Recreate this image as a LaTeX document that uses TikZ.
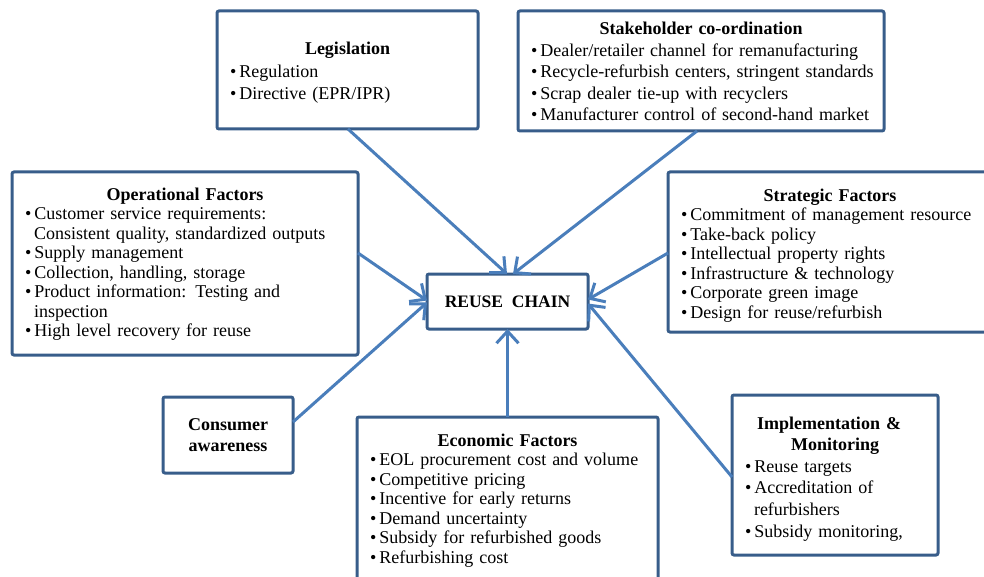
\documentclass[tikz,border=0pt]{standalone}
\usepackage{fontspec}
\setmainfont{Liberation Serif}
\usetikzlibrary{arrows.meta}

\definecolor{boxblue}{RGB}{56,93,138}
\definecolor{linkblue}{RGB}{74,126,187}

% box title (optional strut height), bullet line, wrapped part of a bullet line
\newcommand{\ttl}[2][12pt]{{\centering\bfseries\rule{0pt}{#1}#2\par}}
\newcommand{\itm}[1]{\mbox{\textbullet\hspace{3pt}#1}}
\newcommand{\more}[1]{\mbox{\hspace*{9pt}#1}}

\tikzset{
  factor/.style={draw=boxblue, line width=3pt, rounded corners=2pt, outer sep=0pt,
    inner xsep=13pt, align=left, anchor=north west,
    font=\fontsize{18}{19.5}\selectfont},
  hub/.style={draw=boxblue, line width=3pt, rounded corners=2pt, outer sep=0pt,
    anchor=north west, font=\fontsize{17.5}{20}\selectfont\bfseries},
  link/.style={draw=linkblue, line width=3pt,
    -{Straight Barb[length=12pt,width=22pt]}},
}

\begin{document}
\begin{tikzpicture}[x=1pt,y=-1pt]
  \useasboundingbox (0,0) rectangle (984,577);

  % centre
  \node[hub, minimum width=161pt, minimum height=55pt] (chain) at (427,274) {REUSE\enspace CHAIN};

  % surrounding factors
  \node[factor, text width=235pt, minimum height=118pt, font=\fontsize{18}{22.5}\selectfont] (leg) at (217,11)
    {\ttl[18pt]{Legislation}
     \itm{Regulation}\\
     \itm{Directive (EPR/IPR)}};

  \node[factor, text width=340pt, minimum height=120pt, font=\fontsize{18}{21.5}\selectfont] (stake) at (518,11)
    {\ttl[14pt]{Stakeholder co-ordination}
     \itm{Dealer/retailer channel for remanufacturing}\\
     \itm{Recycle-refurbish centers, stringent standards}\\
     \itm{Scrap dealer tie-up with recyclers}\\
     \itm{Manufacturer control of second-hand market}};

  \node[factor, text width=320pt, minimum height=183pt] (oper) at (12,172)
    {\ttl[14pt]{Operational Factors}
     \itm{Customer service requirements:}\\
     \more{Consistent quality, standardized outputs}\\
     \itm{Supply management}\\
     \itm{Collection, handling, storage}\\
     \itm{Product information: Testing and}\\
     \more{inspection}\\
     \itm{High level recovery for reuse}};

  \node[factor, text width=298pt, minimum height=160pt] (strat) at (668,172)
    {\ttl[19.5pt]{Strategic Factors}
     \itm{Commitment of management resource}\\
     \itm{Take-back policy}\\
     \itm{Intellectual property rights}\\
     \itm{Infrastructure \& technology}\\
     \itm{Corporate green image}\\
     \itm{Design for reuse/refurbish}};

  \node[factor, text width=104pt, minimum height=76pt, align=center, font=\fontsize{18}{21}\selectfont\bfseries] (cons) at (163,397)
    {Consumer\\awareness};

  \node[factor, text width=275pt, minimum height=163pt] (econ) at (357,417)
    {\ttl[16pt]{Economic Factors}
     \itm{EOL procurement cost and volume}\\
     \itm{Competitive pricing}\\
     \itm{Incentive for early returns}\\
     \itm{Demand uncertainty}\\
     \itm{Subsidy for refurbished goods}\\
     \itm{Refurbishing cost}};

  \node[factor, text width=180pt, minimum height=160pt, font=\fontsize{18}{21.6}\selectfont] (impl) at (732,395)
    {\ttl[20pt]{Implementation \&\newline Monitoring}
     \itm{Reuse targets}\\
     \itm{Accreditation of}\\
     \more{refurbishers}\\
     \itm{Subsidy monitoring,}};

  % links into the reuse chain
  \draw[link] ([xshift=131pt]leg.south west) -- ([xshift=80pt]chain.north west);
  \draw[link] ([xshift=179pt]stake.south west) -- ([xshift=86pt]chain.north west);
  \draw[link] ([yshift=-81pt]oper.north east) -- ([yshift=1pt]chain.west);
  \draw[link] ([yshift=-25pt]cons.north east) -- ([yshift=-1pt]chain.west);
  \draw[link] ([yshift=-81pt]strat.north west) -- ([yshift=2pt]chain.east);
  \draw[link] ([yshift=-82pt]impl.north west) -- ([yshift=-2pt]chain.east);
  \draw[link] (econ.north) -- (chain.south);
\end{tikzpicture}
\end{document}
